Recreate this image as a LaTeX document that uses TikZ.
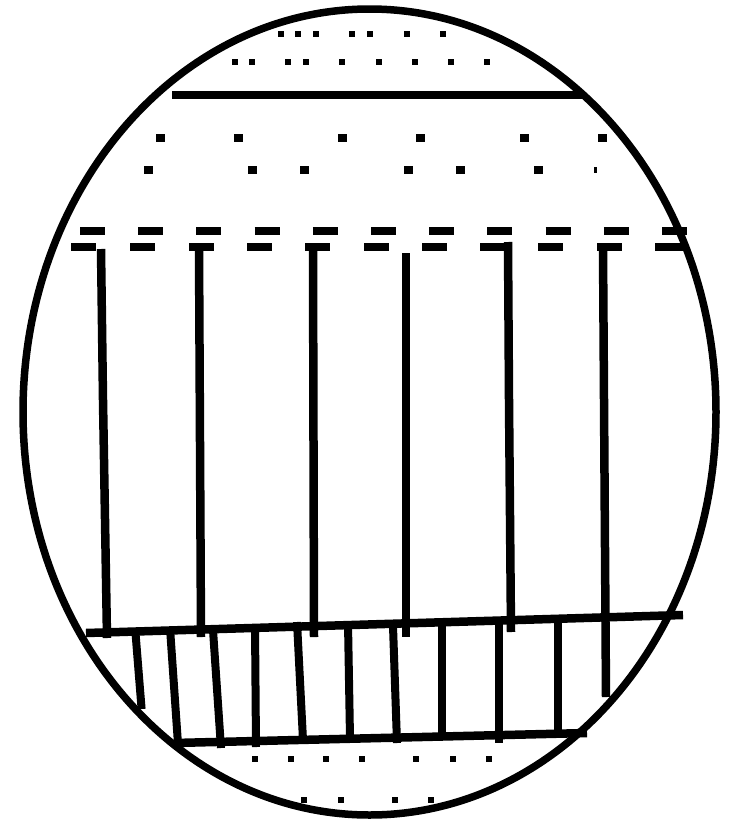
\documentclass[tikz,border=0pt]{standalone}
\begin{document}
\begin{tikzpicture}[x=1pt,y=-1pt,
  rim/.style={line width=7.5pt},
  bar/.style={line width=8.5pt},
  hatch/.style={line width=8pt},
  dashseg/.style={line width=7.5pt},
  dotfill/.style={fill=black}]
\useasboundingbox (0,0) rectangle (733,822);
\fill[white] (0,0) rectangle (733,822);
% outline
\draw[rim] (369.5,412) ellipse [x radius=346.5, y radius=403];
% top dot rows
\foreach \x in {281,298,316,352,370,407,443}
  \fill[dotfill] (\x-3,31) rectangle ++(6,6);
\foreach \x in {235,252,288,306,342,379,415,451,487}
  \fill[dotfill] (\x-3,59) rectangle ++(6,6);
% solid line
\draw[bar] (172,95) -- (583,95);
% middle dot rows
\foreach \x in {160,238,342,420,524,602}
  \fill[dotfill] (\x-4.5,134) rectangle ++(9,8);
\foreach \x in {148,252,304,408,460,538}
  \fill[dotfill] (\x-4.5,166) rectangle ++(9,8);
\fill[dotfill] (594,167) rectangle ++(2.5,6);
% dashed lines
\foreach \i in {0,...,10}
  \draw[dashseg] ({80+58.2*\i},231) -- ++(25,0);
\foreach \s in {71,130,189,247,305,364,422,480,538,597}
  \draw[dashseg] (\s,247) -- ++(25,0);
\draw[dashseg] (655,247) -- (688,247);
% long verticals
\draw[bar] (101,249) -- (103,400) -- (107,638);
\draw[bar] (199,247) -- (201,637);
\draw[bar] (313,247) -- (314,637);
\draw[bar] (406,253) -- (406,637);
\draw[bar] (508,242) -- (509,400) -- (511,632);
\draw[bar] (603,247) -- (604,400) -- (606,697);
% slanted and bottom lines
\draw[bar] (86,633) -- (683,615);
\draw[bar] (174,743) -- (587,733);
% hatching
\draw[hatch] (135.5,633) -- (141.6,709);
\draw[hatch] (170,628) -- (178,744);
\draw[hatch] (213,630) -- (221,748);
\draw[hatch] (255,625) -- (256,747);
\draw[hatch] (297,622) -- (303,740);
\draw[hatch] (348,623) -- (350,738);
\draw[hatch] (393,626) -- (397,743);
\draw[hatch] (442,624) -- (442,735);
\draw[hatch] (499,623) -- (499,743);
\draw[hatch] (558,622) -- (558,731);
% bottom dot rows
\foreach \x in {255,291,326,362,416,453,489}
  \fill[dotfill] (\x-3,756) rectangle ++(6,6);
\foreach \x in {304,341,395,431}
  \fill[dotfill] (\x-3,797) rectangle ++(6,6);
\end{tikzpicture}
\end{document}
